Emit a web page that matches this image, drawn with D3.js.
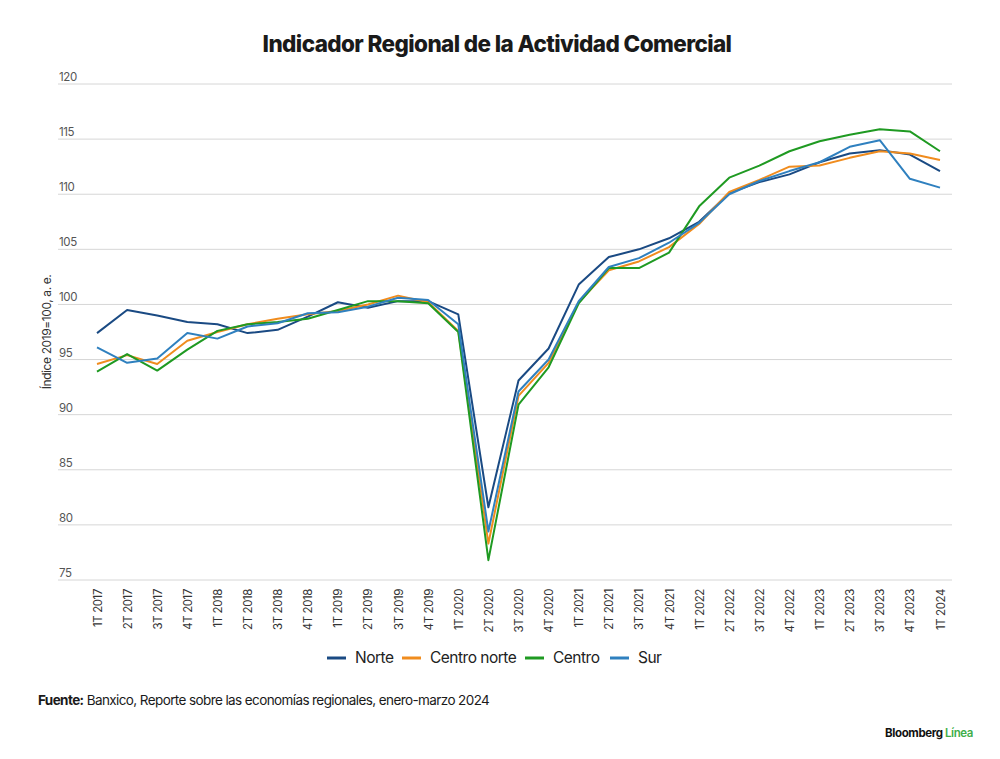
<!DOCTYPE html>
<html>
<head>
<meta charset="utf-8">
<script src="https://cdn.jsdelivr.net/npm/d3@7"></script>
<style>
  body { margin: 0; background: #fff; }
  svg { font-family: Inter, "Noto Sans", sans-serif; }
</style>
</head>
<body>
<svg id="chart" width="1000" height="759"></svg>
<script>
const width = 1000;
const height = 759;
const margin = { top: 84, right: 48, bottom: 179, left: 58 };

const quarters = [
    "1T 2017", "2T 2017", "3T 2017", "4T 2017",
    "1T 2018", "2T 2018", "3T 2018", "4T 2018",
    "1T 2019", "2T 2019", "3T 2019", "4T 2019",
    "1T 2020", "2T 2020", "3T 2020", "4T 2020",
    "1T 2021", "2T 2021", "3T 2021", "4T 2021",
    "1T 2022", "2T 2022", "3T 2022", "4T 2022",
    "1T 2023", "2T 2023", "3T 2023", "4T 2023",
    "1T 2024"
];

const norte = [97.4, 99.5, 99.0, 98.4, 98.2, 97.4, 97.7, 98.9, 100.2, 99.7, 100.3, 100.3,
    99.1, 81.6, 93.1, 96.0, 101.8, 104.3, 105.0, 106.0, 107.5, 110.1, 111.1, 111.8,
    112.9, 113.7, 114.0, 113.6, 112.1];
const centroNorte = [94.6, 95.4, 94.6, 96.7, 97.5, 98.2, 98.7, 99.1, 99.4, 100.0, 100.8, 100.2,
    97.6, 78.3, 91.7, 94.7, 100.2, 103.1, 103.9, 105.2, 107.3, 110.2, 111.3, 112.5,
    112.6, 113.3, 113.9, 113.7, 113.1];
const centro = [93.9, 95.5, 94.0, 95.9, 97.6, 98.2, 98.4, 98.7, 99.5, 100.3, 100.3, 100.1,
    97.5, 76.8, 90.9, 94.3, 100.1, 103.3, 103.3, 104.7, 108.9, 111.5, 112.6, 113.9,
    114.8, 115.4, 115.9, 115.7, 113.9];
const sur = [96.1, 94.7, 95.1, 97.4, 96.9, 98.0, 98.3, 99.2, 99.3, 99.8, 100.6, 100.4,
    98.2, 79.4, 92.1, 95.0, 100.3, 103.4, 104.2, 105.6, 107.4, 110.0, 111.2, 112.1,
    112.9, 114.3, 114.9, 111.4, 110.6];

const yTicks = [75, 80, 85, 90, 95, 100, 105, 110, 115, 120];

const series = [
    { name: "Norte", values: norte, color: "#1a4a83" },
    { name: "Centro norte", values: centroNorte, color: "#f08c1e" },
    { name: "Centro", values: centro, color: "#1f9a22" },
    { name: "Sur", values: sur, color: "#2f80bf" }
];

const svg = d3.select("#chart");

const x = d3.scalePoint()
    .domain(quarters)
    .range([97, 940]);

const y = d3.scaleLinear()
    .domain([75, 120])
    .range([height - margin.bottom, margin.top]);

// Title
svg.append("text")
    .attr("x", 497)
    .attr("y", 52)
    .attr("text-anchor", "middle")
    .style("font-size", "22.5px")
    .style("font-weight", "800")
    .style("letter-spacing", "-0.6px")
    .style("fill", "#1a1a1a")
    .text("Indicador Regional de la Actividad Comercial");

// Gridlines
svg.append("g")
    .selectAll("line")
    .data(yTicks)
    .join("line")
    .attr("x1", margin.left)
    .attr("x2", width - margin.right)
    .attr("y1", d => y(d))
    .attr("y2", d => y(d))
    .attr("stroke", "#d6d6d6")
    .attr("stroke-width", 1);

// Y tick labels sit above the line
svg.append("g")
    .selectAll("text")
    .data(yTicks)
    .join("text")
    .attr("x", margin.left + 1)
    .attr("y", d => y(d) - 3)
    .style("font-size", "11.5px")
    .style("letter-spacing", "-0.4px")
    .style("fill", "#555")
    .text(d => d);

// Y label
svg.append("text")
    .attr("transform", "rotate(-90)")
    .attr("x", -332)
    .attr("y", 51)
    .attr("text-anchor", "middle")
    .style("font-size", "12px")
    .style("letter-spacing", "-0.4px")
    .style("fill", "#333")
    .text("Índice 2019=100, a. e.");

// X labels
const xAxis = svg.append("g")
    .attr("transform", `translate(0,${height - margin.bottom})`)
    .call(d3.axisBottom(x).tickSize(0).tickPadding(0));
xAxis.select(".domain").remove();
xAxis.selectAll("text")
    .attr("transform", "rotate(-90)")
    .attr("text-anchor", "end")
    .attr("x", -9)
    .attr("y", 0)
    .attr("dy", "0.35em")
    .style("font-family", "Inter, 'Noto Sans', sans-serif")
    .style("font-size", "11.5px")
    .style("letter-spacing", "-0.4px")
    .style("fill", "#333");

// Lines
const line = d3.line()
    .x((d, i) => x(quarters[i]))
    .y(d => y(d));

svg.append("g")
    .selectAll("path")
    .data(series)
    .join("path")
    .attr("fill", "none")
    .attr("stroke", d => d.color)
    .attr("stroke-width", 2)
    .attr("stroke-linejoin", "round")
    .attr("d", d => line(d.values));

// Legend
const legendX = [327, 402, 525, 610];
const legend = svg.append("g")
    .selectAll("g")
    .data(series)
    .join("g")
    .attr("transform", (d, i) => `translate(${legendX[i]},658)`);

legend.append("line")
    .attr("x1", 0)
    .attr("x2", 19)
    .attr("stroke", d => d.color)
    .attr("stroke-width", 3);

legend.append("text")
    .attr("x", 28)
    .attr("dy", "0.35em")
    .style("font-size", "15.5px")
    .style("letter-spacing", "-0.5px")
    .style("fill", "#222")
    .text(d => d.name);

// Source
const src = svg.append("text")
    .attr("x", 38)
    .attr("y", 705)
    .style("font-size", "13.5px")
    .style("letter-spacing", "-0.6px")
    .style("fill", "#1a1a1a");
src.append("tspan").style("font-weight", "bold").text("Fuente:");
src.append("tspan").text(" Banxico, Reporte sobre las economías regionales, enero-marzo 2024");

// Brand
const brand = svg.append("text")
    .attr("x", 973)
    .attr("y", 737)
    .attr("text-anchor", "end")
    .style("font-size", "11.5px")
    .style("font-weight", "bold")
    .style("letter-spacing", "-0.4px");
brand.append("tspan").style("fill", "#111").text("Bloomberg ");
brand.append("tspan").style("fill", "#3fae49").style("font-weight", "600").text("Línea");
</script>
</body>
</html>
